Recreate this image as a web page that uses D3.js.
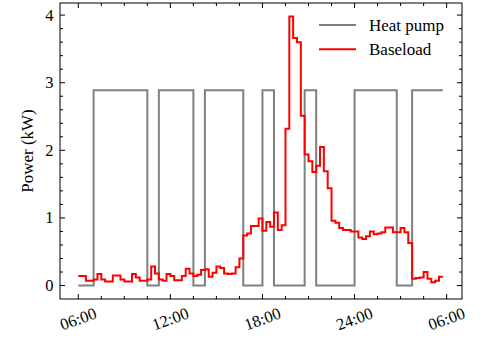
<!DOCTYPE html>
<html>
<head>
<meta charset="utf-8">
<script src="https://cdn.jsdelivr.net/npm/d3@7"></script>
<style>
  html, body { margin: 0; padding: 0; background: #fff; }
  svg { display: block; }
  text { font-family: "Liberation Serif", "Times New Roman", serif; fill: #000; }
</style>
</head>
<body>
<svg id="chart" width="486" height="340"></svg>
<script>
// ---- data (15-minute resolution, starting 06:00) ----
const startHour = 6;
const stepHours = 0.25;
const heatPump = [
  0,0,0,0,
  2.89,2.89,2.89,2.89,2.89,2.89,2.89,2.89,2.89,2.89,2.89,2.89,2.89,2.89,
  0,0,0,
  2.89,2.89,2.89,2.89,2.89,2.89,2.89,2.89,2.89,
  0,0,0,
  2.89,2.89,2.89,2.89,2.89,2.89,2.89,2.89,2.89,2.89,
  0,0,0,0,0,
  2.89,2.89,2.89,
  0,0,0,0,0,0,0,0,
  2.89,2.89,2.89,
  0,0,0,0,0,0,0,0,0,0,
  2.89,2.89,2.89,2.89,2.89,2.89,2.89,2.89,2.89,2.89,2.89,
  0,0,0,0,
  2.89,2.89,2.89,2.89,2.89,2.89,2.89,2.89,2.89
];
const baseload = [
  0.14,0.14,0.07,0.07,0.09,0.17,0.09,0.06,0.06,0.15,
  0.15,0.09,0.06,0.06,0.17,0.12,0.07,0.07,0.09,0.28,
  0.18,0.09,0.07,0.17,0.14,0.08,0.08,0.14,0.25,0.18,
  0.14,0.16,0.23,0.24,0.13,0.19,0.28,0.26,0.18,0.17,
  0.18,0.27,0.40,0.74,0.77,0.88,0.88,0.99,0.81,0.94,
  0.87,1.08,0.82,0.89,2.32,3.98,3.66,3.60,2.51,1.94,
  1.84,1.68,1.77,2.05,1.69,1.44,0.96,0.93,0.85,0.82,
  0.82,0.80,0.80,0.71,0.69,0.73,0.80,0.76,0.77,0.79,
  0.86,0.86,0.79,0.79,0.85,0.79,0.63,0.10,0.11,0.12,
  0.20,0.10,0.05,0.07,0.13,0.13
];
const seriesNames = ["Heat pump", "Baseload"];
const seriesColors = ["#808080", "#ff0000"];
const xTickHours = [6, 12, 18, 24, 30];
const xTickLabels = ["06:00", "12:00", "18:00", "24:00", "06:00"];
const yTicks = [0, 1, 2, 3, 4];
const yLabel = "Power (kW)";

// ---- layout ----
const svg = d3.select("#chart");
const L = 60, R = 462, T = 3, B = 299;

const x = d3.scaleLinear().domain([4.81, 31.0]).range([L, R]);
const y = d3.scaleLinear().domain([-0.199, 4.179]).range([B, T]);

const hp = heatPump.map((v, i) => [startHour + i * stepHours, v]);
const bl = baseload.map((v, i) => [startHour + i * stepHours, v]);

const line = d3.line()
  .x(d => x(d[0]))
  .y(d => y(d[1]))
  .curve(d3.curveStepAfter);

const lw = 2;
const plot = svg.append("g");
plot.append("path").datum(hp)
  .attr("d", line).attr("fill", "none")
  .attr("stroke", seriesColors[0]).attr("stroke-width", lw);
plot.append("path").datum(bl)
  .attr("d", line).attr("fill", "none")
  .attr("stroke", seriesColors[1]).attr("stroke-width", lw);

// ---- ticks (inward on all sides) ----
const major = 5, minor = 3;
const xMinor = d3.range(6, 31, 1.5).filter(h => xTickHours.indexOf(h) < 0 && x(h) > L && x(h) < R);
const yMinor = d3.range(-0.2, 4.2, 0.2).map(v => Math.round(v * 10) / 10)
  .filter(v => yTicks.indexOf(v) < 0 && y(v) < B && y(v) > T);

const tg = svg.append("g").attr("stroke", "#000").attr("stroke-width", 1);
xTickHours.forEach(h => {
  tg.append("line").attr("x1", x(h)).attr("x2", x(h)).attr("y1", B).attr("y2", B - major);
  tg.append("line").attr("x1", x(h)).attr("x2", x(h)).attr("y1", T).attr("y2", T + major);
});
xMinor.forEach(h => {
  tg.append("line").attr("x1", x(h)).attr("x2", x(h)).attr("y1", B).attr("y2", B - minor);
  tg.append("line").attr("x1", x(h)).attr("x2", x(h)).attr("y1", T).attr("y2", T + minor);
});
yTicks.forEach(v => {
  tg.append("line").attr("x1", L).attr("x2", L + major).attr("y1", y(v)).attr("y2", y(v));
  tg.append("line").attr("x1", R).attr("x2", R - major).attr("y1", y(v)).attr("y2", y(v));
});
yMinor.forEach(v => {
  tg.append("line").attr("x1", L).attr("x2", L + minor).attr("y1", y(v)).attr("y2", y(v));
  tg.append("line").attr("x1", R).attr("x2", R - minor).attr("y1", y(v)).attr("y2", y(v));
});

// frame
svg.append("rect").attr("x", L).attr("y", T).attr("width", R - L).attr("height", B - T)
  .attr("fill", "none").attr("stroke", "#000").attr("stroke-width", 1);

// tick labels
const fs = 16.5;
xTickHours.forEach((h, i) => {
  svg.append("text")
    .attr("transform", `translate(${x(h)},319) rotate(-20)`)
    .attr("text-anchor", "middle").attr("dominant-baseline", "central")
    .attr("font-size", fs).text(xTickLabels[i]);
});
yTicks.forEach(v => {
  svg.append("text")
    .attr("x", 53.5).attr("y", y(v))
    .attr("text-anchor", "end").attr("dominant-baseline", "central")
    .attr("font-size", fs).text(String(v));
});

// y label
svg.append("text")
  .attr("transform", `translate(27,151) rotate(-90)`)
  .attr("text-anchor", "middle").attr("dominant-baseline", "central")
  .attr("font-size", 17).text(yLabel);

// legend
const lg = svg.append("g");
seriesNames.forEach((name, i) => {
  const ly = 25 + i * 24.3;
  lg.append("line").attr("x1", 319).attr("x2", 356).attr("y1", ly).attr("y2", ly)
    .attr("stroke", seriesColors[i]).attr("stroke-width", lw);
  lg.append("text").attr("x", 369).attr("y", ly)
    .attr("dominant-baseline", "central").attr("font-size", 17).text(name);
});
</script>
</body>
</html>
